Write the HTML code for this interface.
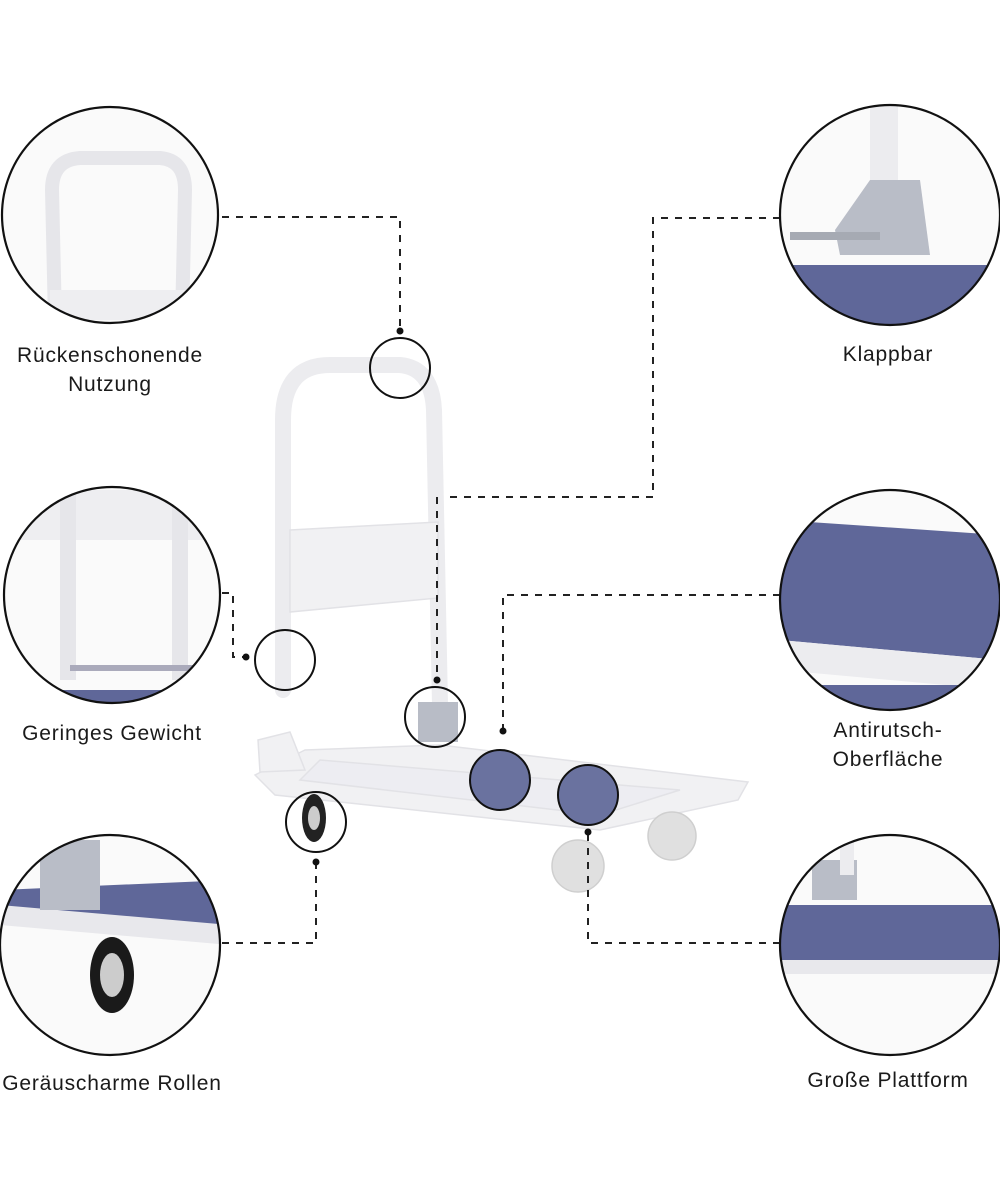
<!DOCTYPE html>
<html><head><meta charset="utf-8"><style>
html,body{margin:0;padding:0;background:#fff;}
svg{display:block}
text{font-family:"Liberation Sans","DejaVu Sans",sans-serif;font-size:21px;fill:#1a1a1a;text-anchor:middle;letter-spacing:0.8px}
</style></head><body>
<svg width="1000" height="1200" viewBox="0 0 1000 1200" xmlns="http://www.w3.org/2000/svg">
<defs>
<clipPath id="c1"><circle cx="110" cy="215" r="108"/></clipPath>
<clipPath id="c2"><circle cx="890" cy="215" r="110"/></clipPath>
<clipPath id="c3"><circle cx="112" cy="595" r="108"/></clipPath>
<clipPath id="c4"><circle cx="890" cy="600" r="110"/></clipPath>
<clipPath id="c5"><circle cx="110" cy="945" r="110"/></clipPath>
<clipPath id="c6"><circle cx="890" cy="945" r="110"/></clipPath>
</defs>

<g fill="#f1f1f3" stroke="#e2e2e6" stroke-width="1.5">
<path d="M283,690 L283,420 Q283,365 330,365 L400,365 Q432,368 434,410 L440,705" fill="none" stroke="#ececef" stroke-width="16" stroke-linecap="round"/>
<polygon points="290,530 438,522 438,598 290,612"/>
<polygon points="255,775 305,750 440,745 748,782 738,800 600,830 275,795"/>
<polygon points="300,780 320,760 680,790 600,815" fill="#ededf2"/>
<polygon points="258,740 290,732 305,770 260,772"/>
<circle cx="672" cy="836" r="24" fill="#e0e0e0" stroke="#cfcfcf"/>
<circle cx="578" cy="866" r="26" fill="#e0e0e0" stroke="#cfcfcf"/>
</g>
<ellipse cx="314" cy="818" rx="12" ry="24" fill="#222"/>
<ellipse cx="314" cy="818" rx="6" ry="12" fill="#ccc"/>
<circle cx="500" cy="780" r="30" fill="#6a729f"/>
<circle cx="588" cy="795" r="30" fill="#6a729f"/>
<rect x="418" y="702" width="40" height="40" fill="#b8bcc6"/>

<g fill="none" stroke="#111" stroke-width="2">
<circle cx="400" cy="368" r="30"/>
<circle cx="285" cy="660" r="30"/>
<circle cx="435" cy="717" r="30"/>
<circle cx="500" cy="780" r="30"/>
<circle cx="588" cy="795" r="30"/>
<circle cx="316" cy="822" r="30"/>
</g>

<g fill="none" stroke="#222" stroke-width="2" stroke-dasharray="7,7">
<polyline points="222,217 400,217 400,330"/>
<polyline points="780,218 653,218 653,497 450,497"/>
<polyline points="437,497 437,680"/>
<polyline points="222,593 233,593 233,657 246,657"/>
<polyline points="780,595 503,595 503,730"/>
<polyline points="222,943 316,943 316,862"/>
<polyline points="780,943 588,943 588,832"/>
</g>
<g fill="#111">
<circle cx="400" cy="331" r="3.5"/><circle cx="437" cy="680" r="3.5"/><circle cx="246" cy="657" r="3.5"/>
<circle cx="503" cy="731" r="3.5"/><circle cx="316" cy="862" r="3.5"/><circle cx="588" cy="832" r="3.5"/>
</g>

<g clip-path="url(#c1)">
<rect x="0" y="100" width="230" height="240" fill="#fafafa"/>
<path d="M55,320 L52,190 Q52,160 80,158 L160,158 Q185,160 185,190 L182,320" fill="none" stroke="#e6e6ea" stroke-width="14"/>
<rect x="50" y="290" width="140" height="30" fill="#eeeef1"/>
</g>
<g clip-path="url(#c2)">
<rect x="780" y="100" width="230" height="240" fill="#fafafa"/>
<polygon points="780,265 1000,265 1000,330 780,330" fill="#5f6799"/>
<rect x="870" y="100" width="28" height="150" fill="#ececef"/>
<polygon points="835,230 870,180 920,180 930,255 840,255" fill="#b9bdc7"/>
<rect x="790" y="232" width="90" height="8" fill="#a6aab3"/>
</g>
<g clip-path="url(#c3)">
<rect x="0" y="480" width="230" height="240" fill="#fafafa"/>
<rect x="0" y="490" width="230" height="50" fill="#eeeef1"/>
<rect x="60" y="480" width="16" height="200" fill="#e6e6ea"/>
<rect x="172" y="480" width="16" height="200" fill="#e6e6ea"/>
<polygon points="0,690 230,690 230,720 0,720" fill="#5f6799"/>
<rect x="70" y="665" width="140" height="6" fill="#aab"/>
</g>
<g clip-path="url(#c4)">
<rect x="780" y="490" width="230" height="240" fill="#fafafa"/>
<polygon points="780,520 1000,535 1000,660 780,640" fill="#5f6799"/>
<polygon points="780,640 1000,660 1000,690 780,670" fill="#ececef"/>
<rect x="780" y="685" width="230" height="30" fill="#5f6799"/>
</g>
<g clip-path="url(#c5)">
<rect x="0" y="835" width="230" height="240" fill="#fafafa"/>
<polygon points="0,890 230,880 230,935 0,915" fill="#5f6799"/>
<polygon points="0,905 230,925 230,945 0,925" fill="#e8e8ec"/>
<rect x="40" y="840" width="60" height="70" fill="#b9bdc7"/>
<ellipse cx="112" cy="975" rx="22" ry="38" fill="#1a1a1a"/>
<ellipse cx="112" cy="975" rx="12" ry="22" fill="#ccc"/>
</g>
<g clip-path="url(#c6)">
<rect x="780" y="835" width="230" height="240" fill="#fafafa"/>
<polygon points="780,905 1000,905 1000,965 780,960" fill="#5f6799"/>
<rect x="780" y="960" width="230" height="14" fill="#e8e8ec"/>
<rect x="812" y="860" width="45" height="40" fill="#b9bdc7"/>
<rect x="840" y="835" width="14" height="40" fill="#ececef"/>
</g>

<g fill="none" stroke="#111" stroke-width="2.2">
<circle cx="110" cy="215" r="108"/>
<circle cx="890" cy="215" r="110"/>
<circle cx="112" cy="595" r="108"/>
<circle cx="890" cy="600" r="110"/>
<circle cx="110" cy="945" r="110"/>
<circle cx="890" cy="945" r="110"/>
</g>

<text x="110" y="362">Rückenschonende</text>
<text x="110" y="391">Nutzung</text>
<text x="888" y="361">Klappbar</text>
<text x="112" y="740">Geringes Gewicht</text>
<text x="888" y="737">Antirutsch-</text>
<text x="888" y="766">Oberfläche</text>
<text x="112" y="1090">Geräuscharme Rollen</text>
<text x="888" y="1087">Große Plattform</text>
</svg>
</body></html>
